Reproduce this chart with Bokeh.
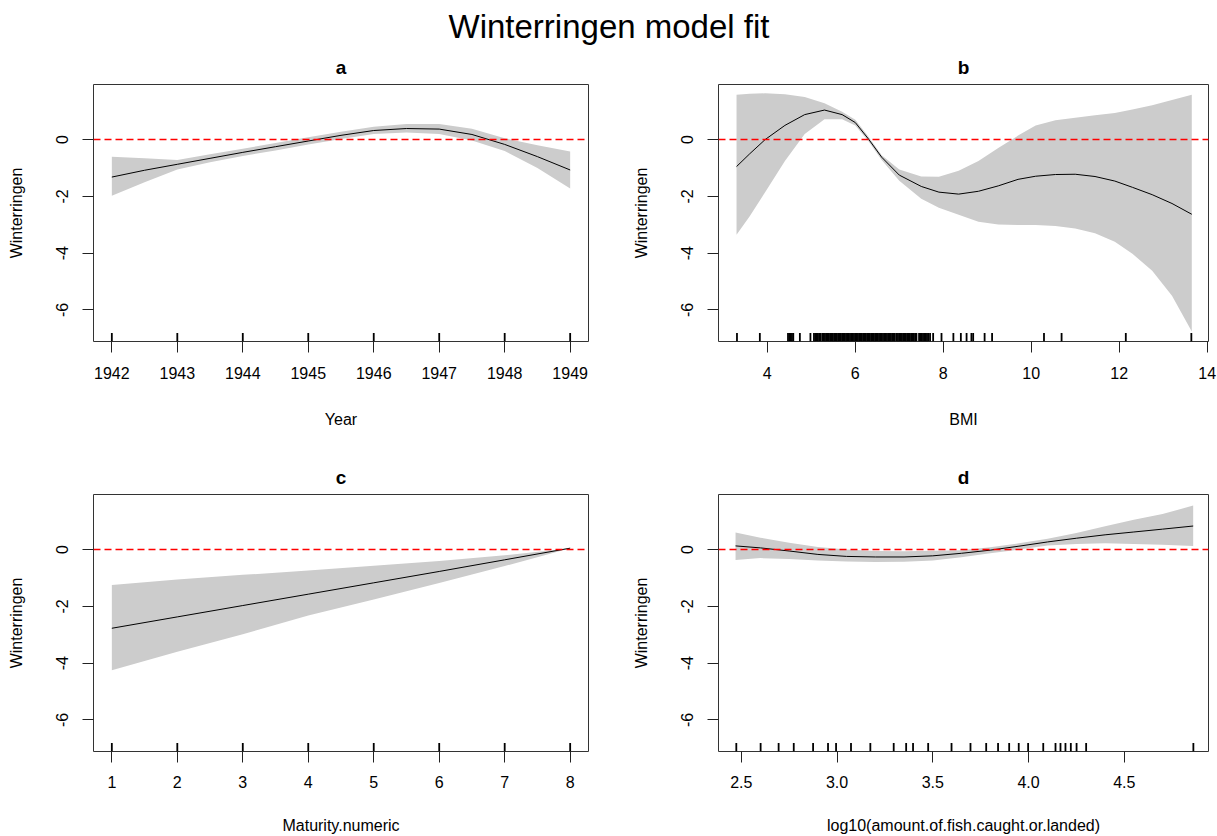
from bokeh.plotting import figure
from bokeh.layouts import column, row
from bokeh.models import Span, FixedTicker, Range1d, NumeralTickFormatter
from bokeh.embed import file_html
from bokeh.resources import INLINE
from bokeh.core.properties import value

FONT = "Liberation Sans"

# ---------------- data ----------------
main_title = "Winterringen model fit"
y_label = "Winterringen"
y_ticks = [0, -2, -4, -6]

# panel a : Year
year = [1942, 1942.5, 1943, 1943.5, 1944, 1944.5, 1945, 1945.5, 1946, 1946.5, 1947, 1947.5, 1948, 1948.5, 1949]
fit_a = [-1.32, -1.08, -0.87, -0.66, -0.45, -0.25, -0.05, 0.15, 0.32, 0.39, 0.37, 0.18, -0.17, -0.60, -1.07]
up_a = [-0.60, -0.66, -0.72, -0.52, -0.32, -0.12, 0.08, 0.28, 0.45, 0.55, 0.55, 0.38, 0.05, -0.20, -0.42]
lo_a = [-1.98, -1.50, -1.05, -0.80, -0.58, -0.38, -0.17, 0.02, 0.20, 0.25, 0.20, -0.03, -0.40, -1.00, -1.72]
rug_a = [1942, 1943, 1944, 1945, 1946, 1947, 1948, 1949]
ticks_a = [1942, 1943, 1944, 1945, 1946, 1947, 1948, 1949]

# panel b : BMI
bmi = [3.3, 3.6, 3.95, 4.4, 4.85, 5.3, 5.7, 6.0, 6.3, 6.6, 7.0, 7.5, 7.9, 8.35, 8.8, 9.25, 9.7, 10.1, 10.55, 11.0, 11.45, 11.9, 12.3, 12.75, 13.2, 13.65]
fit_b = [-0.95, -0.50, 0.00, 0.50, 0.88, 1.04, 0.88, 0.60, 0.02, -0.62, -1.25, -1.65, -1.85, -1.92, -1.82, -1.63, -1.40, -1.29, -1.23, -1.22, -1.30, -1.46, -1.68, -1.94, -2.25, -2.63]
up_b = [1.58, 1.61, 1.63, 1.60, 1.50, 1.28, 0.98, 0.70, 0.10, -0.55, -1.05, -1.30, -1.31, -1.10, -0.75, -0.30, 0.14, 0.50, 0.68, 0.77, 0.86, 0.94, 1.06, 1.21, 1.39, 1.58]
lo_b = [-3.35, -2.70, -1.85, -0.75, 0.20, 0.72, 0.72, 0.50, -0.06, -0.72, -1.45, -2.08, -2.40, -2.65, -2.89, -2.99, -3.01, -3.01, -3.04, -3.13, -3.30, -3.60, -4.02, -4.62, -5.50, -6.76]
rug_b = [3.31, 3.83, 4.47, 4.50, 4.53, 4.56, 4.59, 4.74, 4.98, 5.06, 5.09, 5.12, 5.15, 5.18, 5.21,
         5.25, 5.28, 5.31, 5.34, 5.37, 5.40, 5.43, 5.46, 5.49, 5.52, 5.55, 5.58, 5.61, 5.64, 5.67,
         5.70, 5.73, 5.76, 5.79, 5.82, 5.85, 5.88, 5.91, 5.94, 5.97, 6.00, 6.03, 6.06, 6.09, 6.12,
         6.15, 6.18, 6.21, 6.24, 6.27, 6.30, 6.33, 6.36, 6.39, 6.42, 6.45, 6.48, 6.51, 6.54, 6.57,
         6.60, 6.63, 6.66, 6.69, 6.72, 6.75, 6.78, 6.81, 6.84, 6.87, 6.90, 6.94, 6.97, 7.00, 7.03,
         7.06, 7.09, 7.12, 7.15, 7.18, 7.21, 7.24, 7.27, 7.30, 7.33, 7.36, 7.39, 7.45, 7.48, 7.51,
         7.54, 7.57, 7.60, 7.63, 7.66, 7.70, 7.77, 7.96, 8.23, 8.40, 8.53, 8.64, 8.68, 8.94, 9.11,
         10.29, 10.69, 12.15, 13.64]
ticks_b = [4, 6, 8, 10, 12, 14]

# panel c : Maturity.numeric
mat = [1, 2, 3, 4, 5, 6, 7, 8]
fit_c = [-2.77, -2.37, -1.97, -1.57, -1.17, -0.77, -0.36, 0.05]
up_c = [-1.25, -1.05, -0.89, -0.74, -0.57, -0.40, -0.20, 0.05]
lo_c = [-4.25, -3.60, -2.98, -2.32, -1.76, -1.18, -0.58, 0.05]
rug_c = [1, 2, 3, 4, 5, 6, 7, 8]
ticks_c = [1, 2, 3, 4, 5, 6, 7, 8]

# panel d : log10(amount of fish)
lfish = [2.47, 2.6, 2.75, 2.9, 3.05, 3.2, 3.35, 3.5, 3.65, 3.8, 3.95, 4.1, 4.25, 4.4, 4.55, 4.7, 4.86]
fit_d = [0.13, 0.06, -0.05, -0.17, -0.24, -0.26, -0.26, -0.22, -0.13, -0.02, 0.12, 0.27, 0.40, 0.52, 0.62, 0.72, 0.83]
up_d = [0.60, 0.42, 0.24, 0.09, 0.00, -0.05, -0.06, -0.04, -0.02, 0.08, 0.22, 0.38, 0.58, 0.82, 1.05, 1.25, 1.55]
lo_d = [-0.37, -0.30, -0.33, -0.38, -0.42, -0.44, -0.43, -0.38, -0.27, -0.13, 0.00, 0.14, 0.20, 0.22, 0.20, 0.17, 0.13]
rug_d = [2.474, 2.601, 2.695, 2.774, 2.875, 2.953, 2.995, 3.073, 3.174, 3.296, 3.361, 3.397, 3.476,
         3.598, 3.697, 3.779, 3.841, 3.899, 3.949, 3.998, 4.077, 4.141, 4.167, 4.193, 4.221, 4.251,
         4.301, 4.861]
ticks_d = [2.5, 3.0, 3.5, 4.0, 4.5]

YLO, YHI = -7.11, 1.94
RUG_LEN = 0.30


def panel(title, xlabel, xr, xticks, xfmt, x, fit, lo, hi, rug,
          width, height, left, right, top, bottom, tick_sd, lab_sd):
    p = figure(width=width, height=height, x_range=Range1d(*xr), y_range=Range1d(YLO, YHI),
               output_backend="svg", toolbar_location=None,
               min_border_left=left, min_border_right=right,
               min_border_top=top, min_border_bottom=bottom)
    p.title.text = title
    p.title.align = "center"
    p.title.text_font = FONT
    p.title.text_font_size = "19px"
    p.title.text_font_style = "bold"
    p.title.text_color = "black"
    p.title.standoff = 14
    p.xgrid.visible = False
    p.ygrid.visible = False
    p.outline_line_color = "#333333"
    p.outline_line_width = 1
    p.background_fill_color = "white"
    p.border_fill_color = "white"

    p.varea(x=x, y1=lo, y2=hi, fill_color="#CCCCCC")
    p.line(x, fit, line_color="black", line_width=1)
    p.add_layout(Span(location=0, dimension="width", line_color="#FF0000",
                      line_dash="7 4", line_width=1.5))
    p.segment(x0=rug, y0=[YLO] * len(rug), x1=rug, y1=[YLO + RUG_LEN] * len(rug),
              line_color="black", line_width=1.8)

    for ax in (p.xaxis, p.yaxis):
        ax.axis_line_color = None
        ax.major_tick_line_color = "#222222"
        ax.major_tick_out = 11
        ax.major_tick_in = 0
        ax.minor_tick_line_color = None
        ax.major_label_text_font = FONT
        ax.major_label_text_font_size = "16px"
        ax.major_label_text_color = "black"
        ax.axis_label_text_font = FONT
        ax.axis_label_text_font_size = "16px"
        ax.axis_label_text_font_style = "normal"
        ax.axis_label_text_color = "black"

    p.xaxis.ticker = FixedTicker(ticks=xticks)
    p.xaxis.formatter = NumeralTickFormatter(format=xfmt)
    p.xaxis.axis_label = xlabel
    p.xaxis.major_label_standoff = tick_sd
    p.xaxis.axis_label_standoff = lab_sd

    p.yaxis.ticker = FixedTicker(ticks=y_ticks)
    p.yaxis.formatter = NumeralTickFormatter(format="0")
    p.yaxis.major_label_orientation = "vertical"
    p.yaxis.axis_label = y_label
    p.yaxis.major_label_standoff = 14
    p.yaxis.axis_label_standoff = 29
    return p


pa = panel("a", "Year", (1941.72, 1949.28), ticks_a, "0", year, fit_a, lo_a, up_a, rug_a,
           608, 410, 93, 20, 37, 116, 14, 29)
pb = panel("b", "BMI", (2.89, 14.03), ticks_b, "0", bmi, fit_b, lo_b, up_b, rug_b,
           609, 410, 110, 9, 37, 116, 14, 29)
pc = panel("c", "Maturity.numeric", (0.72, 8.28), ticks_c, "0", mat, fit_c, lo_c, up_c, rug_c,
           608, 379, 93, 20, 37, 85, 13, 26)
pd_ = panel("d", "log10(amount.of.fish.caught.or.landed)", (2.381, 4.94), ticks_d, "0.0",
            lfish, fit_d, lo_d, up_d, rug_d, 609, 379, 110, 9, 37, 85, 13, 26)

tf = figure(width=1217, height=47, x_range=Range1d(0, 1217), y_range=Range1d(47, 0),
            output_backend="svg", toolbar_location=None, min_border=0)
tf.axis.visible = False
tf.xgrid.visible = False
tf.ygrid.visible = False
tf.outline_line_color = None
tf.text(x=[608.5], y=[26], text=[main_title], text_font=value(FONT), text_font_size="33px",
        text_align="center", text_baseline="middle", text_color="black")

layout = column(tf, row(pa, pb), row(pc, pd_))
open("out.html", "w").write(file_html(layout, INLINE))
